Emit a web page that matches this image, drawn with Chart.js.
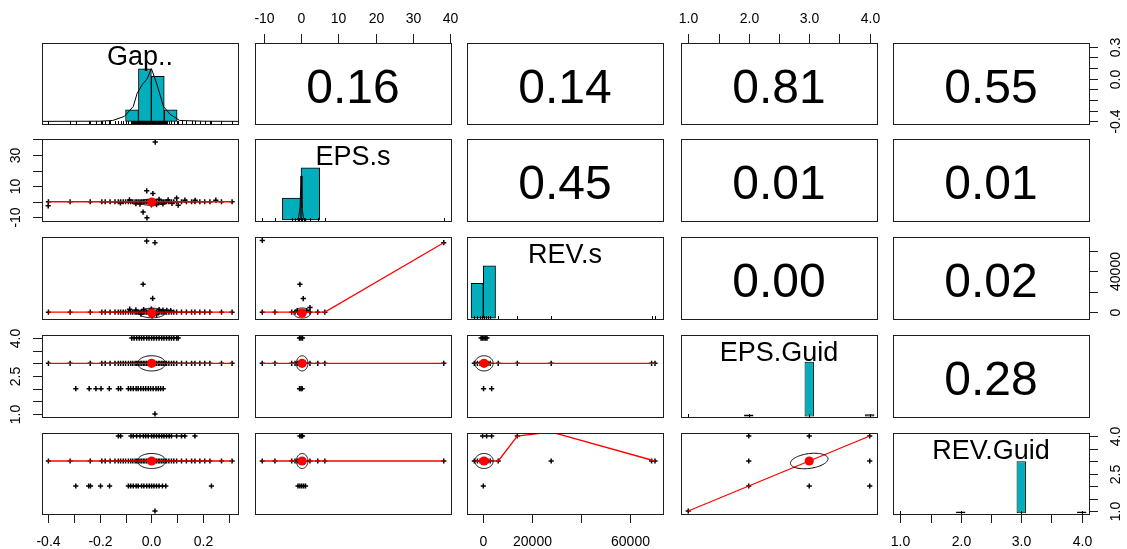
<!DOCTYPE html>
<html>
<head>
<meta charset="utf-8">
<title>Pairs panels</title>
<script src="https://cdn.jsdelivr.net/npm/chart.js@4.4.1/dist/chart.umd.min.js"></script>
<style>
  html, body { margin: 0; padding: 0; background: #ffffff; }
  #plot { position: relative; width: 1127px; height: 549px; overflow: hidden; background: #ffffff; }
  #plot canvas { position: absolute; }
</style>
</head>
<body>
<div id="plot"></div>
<script>
// ---------------- variables and axis ranges ----------------
const varNames = ['Gap..', 'EPS.s', 'REV.s', 'EPS.Guid', 'REV.Guid'];
const varMin = [-0.424, -12.35, -6670, 0.88, 0.88];
const varMax = [0.336, 40.25, 73470, 4.12, 4.12];

// ---------------- tick positions and printed labels ('' = tick only) ----------------
const gapTicks = [-0.4, -0.3, -0.2, -0.1, 0.0, 0.1, 0.2, 0.3];
const gapLabelsBottom = ['-0.4', '', '-0.2', '', '0.0', '', '0.2', ''];
const gapLabelsRight = ['-0.4', '', '', '', '0.0', '', '', '0.3'];
const epsTicks = [-10, 0, 10, 20, 30, 40];
const epsLabelsTop = ['-10', '0', '10', '20', '30', '40'];
const epsLabelsLeft = ['-10', '', '10', '', '30', ''];
const revTicks = [0, 20000, 40000, 60000];
const revLabelsBottom = ['0', '20000', '', '60000'];
const revLabelsRight = ['0', '', '40000', ''];
const guidTicks = [1.0, 1.5, 2.0, 2.5, 3.0, 3.5, 4.0];
const guidLabelsTop = ['1.0', '', '2.0', '', '3.0', '', '4.0'];
const guidLabelsSide = ['1.0', '', '', '2.5', '', '', '4.0'];

// ---------------- correlations printed above the diagonal ----------------
const corrRows = [0, 0, 0, 0, 1, 1, 1, 2, 2, 3];
const corrCols = [1, 2, 3, 4, 2, 3, 4, 3, 4, 4];
const corrText = ['0.16', '0.14', '0.81', '0.55', '0.45', '0.01', '0.01', '0.00', '0.02', '0.28'];

// ---------------- histograms (counts per bin, bin mid-points) ----------------
const gapBinMid = [-0.075, -0.025, 0.025, 0.075];
const gapBinCount = [65, 299, 256, 65];
const gapDensX = [-0.424, -0.20, -0.15, -0.105, -0.07, -0.055, -0.035, -0.017, 0.0, 0.015, 0.03, 0.047, 0.073, 0.11, 0.20, 0.336];
const gapDensY = [0, 1, 5, 28, 85, 160, 210, 240, 300, 240, 170, 85, 40, 5, 1, 0];
const gapHistRange = [-15, 446];

const epsBinMid = [-2.5, 2.5];
const epsBinCount = [218, 520];
const epsDensX = [-1.5, -0.7, -0.25, 0.0, 0.25, 0.7, 1.5];
const epsDensY = [0, 15, 120, 440, 120, 15, 0];
const epsHistRange = [-10, 809];

const revBinMid = [-2500, 2500];
const revBinCount = [295, 443];
const revHistRange = [-6, 685];

const guidBinMid = [1, 2, 3, 4];
const epsGuidCount = [1, 24, 690, 28];
const epsGuidHistRange = [-6, 1029];
const revGuidCount = [1, 25, 694, 26];
const revGuidHistRange = [-9, 1072];

// ---------------- observed values along the crowded rows ----------------
const gapCommon = [-0.399, -0.315, -0.237, -0.192, -0.179, -0.160, -0.141, -0.128, -0.119, -0.109, -0.100, -0.089,
  -0.080, -0.072, -0.063, -0.057, -0.051, -0.044, -0.038, -0.031, -0.025, -0.018, -0.012, -0.005, 0.001, 0.007,
  0.014, 0.020, 0.027, 0.033, 0.040, 0.046, 0.053, 0.059, 0.068, 0.078, 0.087, 0.098, 0.117, 0.136, 0.156, 0.169,
  0.188, 0.207, 0.227, 0.272, 0.313];
const gapEps4 = [-0.076, -0.067, -0.057, -0.047, -0.038, -0.029, -0.018, -0.009, 0.001, 0.010, 0.020, 0.030, 0.040,
  0.049, 0.059, 0.069, 0.078, 0.087, 0.098, 0.104];
const gapEps2 = [-0.293, -0.241, -0.215, -0.195, -0.163, -0.128, -0.119, -0.089, -0.080, -0.070, -0.059, -0.051,
  -0.041, -0.031, -0.022, -0.012, -0.003, 0.007, 0.018, 0.027, 0.036, 0.046];
const gapEps1 = [0.014];
const gapRev4 = [-0.128, -0.119, -0.079, -0.070, -0.057, -0.044, -0.031, -0.022, -0.012, 0.001, 0.010, 0.020, 0.030,
  0.040, 0.049, 0.059, 0.069, 0.078, 0.098, 0.117, 0.130, 0.169];
const gapRev2 = [-0.293, -0.243, -0.236, -0.197, -0.162, -0.089, -0.080, -0.070, -0.059, -0.051, -0.038, -0.029,
  -0.018, -0.008, 0.001, 0.010, 0.020, 0.030, 0.043, 0.056, 0.233];
const gapRev1 = [0.014];

const epsCommon = [-10.4, -7.0, -2.5, -1.6, -0.9, -0.5, -0.1, 0.3, 0.7, 1.1, 2.4, 4.5, 6.4];
const epsTop = [38.3];
const epsEps4 = [-0.4, 0.0, 0.4];
const epsEps2 = [-0.4, 0.0, 0.3];
const epsRev4 = [-0.3, 0.1, 0.4];
const epsRev2 = [-0.8, -0.3, 0.2, 0.7, 1.2];

const revEps3 = [-3670, -2400, -1300, -500, 300, 1100, 1900, 2800, 6100, 13900, 27750, 68800, 70200];
const revEps4 = [-900, -300, 300, 900, 1500];
const revEps2 = [100, 3400];
const revRev3 = [-3670, -2400, -1300, -500, 300, 1100, 1900, 2800, 6100, 27750, 68800, 70200];
const revRev4 = [-300, 1350, 3400, 13900];
const revRev2 = [0];

const guidPairs = [[1, 1], [2, 2], [2, 3], [2, 4], [3, 2], [3, 3], [3, 4], [4, 2], [4, 3], [4, 4]];

// scattered values away from the crowded rows
const gapEpsOff = [[-0.400, -2.6], [0.015, 38.3], [-0.018, 7.0], [0.006, 5.3], [-0.032, -6.6], [-0.017, -10.3],
  [0.098, 2.4], [0.104, -2.2], [-0.044, -1.5], [-0.085, 1.2], [-0.060, -1.3], [0.030, 1.6], [0.045, -1.4],
  [0.065, 1.2], [0.080, -1.0], [0.130, 1.0], [0.170, 0.9], [0.250, 1.0], [-0.120, -0.8], [0.000, -2.0], [0.020, -1.8]];
const gapRevOff = [[-0.018, 69500], [0.014, 67900], [-0.032, 27300], [0.005, 13400], [-0.084, 2900], [-0.060, 2200],
  [-0.030, 2600], [0.000, 3000], [0.030, 2500], [0.045, 2000], [0.060, 1800], [0.075, 1500], [-0.040, -2000],
  [0.020, -2500], [0.003, -3600]];
const epsRevOff = [[-10.4, 70100], [38.3, 67900], [-0.3, 27200], [0.6, 13300], [2.4, 4500], [1.5, 1500], [-1.0, 1500], [0.2, -2500]];

// ---------------- smoothers ----------------
const smoothGapEps = [[-0.399, 0], [0.313, 0]];
const smoothGapRev = [[-0.399, 0], [0.313, 0]];
const smoothEpsRev = [[-10.4, 0], [6.4, 0], [38.3, 67900]];
const smoothGapGuid = [[-0.399, 3], [0.313, 3]];
const smoothEpsGuid = [[-10.4, 3], [38.3, 3]];
const smoothRevEpsGuid = [[-3670, 3], [70200, 3]];
const smoothRevRevGuid = [[-3670, 3], [6100, 3], [13900, 4], [27750, 4.16], [70200, 3]];
const smoothGuid = [[1, 1], [2, 2], [3, 3], [4, 4]];

// ---------------- means and correlation ellipses: [x, y], [x radius, y radius, r] ----------------
const meanGapEps = [0.002, -0.3],  ellGapEps = [0.048, 2.0, 0];
const meanGapRev = [0.002, -800],  ellGapRev = [0.051, 4700, 0];
const meanEpsRev = [0.3, -800],    ellEpsRev = [2.3, 4900, 0];
const meanGapEG = [0.001, 3.0],    ellGapEG = [0.054, 0.30, 0];
const meanEpsEG = [0.3, 3.0],      ellEpsEG = [1.55, 0.30, 0];
const meanRevEG = [300, 3.0],      ellRevEG = [3750, 0.30, 0];
const meanGapRG = [0.001, 3.0],    ellGapRG = [0.055, 0.30, 0];
const meanEpsRG = [0.3, 3.0],      ellEpsRG = [1.55, 0.30, 0];
const meanRevRG = [300, 3.0],      ellRevRG = [3750, 0.30, 0];
const meanGuid = [3.0, 3.0],       ellGuid = [0.31, 0.31, 0.28];

// ---------------- layout ----------------
const BOX_LEFT = [42, 255, 467, 681, 893];
const BOX_W = 196;
const BOX_TOP = [43, 139, 237, 335, 433];
const BOX_H = [81, 82, 82, 82, 81];
const MARGIN = 50;
const HIST_COL = '#00AFBB';
const INK = '#000000';
const BOX_INK = '#1e1e1e';
const FONT = '"Liberation Sans", Arial, Helvetica, sans-serif';
const TICK_FONT_PX = 14;
const TICK_LEN = 9;
const RUG_LEN = 3;

const plotEl = document.getElementById('plot');

const row = (xs, y) => xs.map(x => ({ x: x, y: y }));
const pairs = (arr) => arr.map(p => ({ x: p[0], y: p[1] }));

function makeCanvas(r, c) {
  const cv = document.createElement('canvas');
  const w = BOX_W + 2 * MARGIN, h = BOX_H[r] + 2 * MARGIN;
  cv.width = w; cv.height = h;
  cv.style.width = w + 'px'; cv.style.height = h + 'px';
  cv.style.left = (BOX_LEFT[c] - MARGIN) + 'px';
  cv.style.top = (BOX_TOP[r] - MARGIN) + 'px';
  plotEl.appendChild(cv);
  return cv;
}

function drawEllipse(chart, e) {
  const xs = chart.scales.x, ys = chart.scales.y, ctx = chart.ctx, a = chart.chartArea;
  const d = Math.acos(e.r);
  ctx.save();
  ctx.beginPath();
  ctx.rect(a.left, a.top, a.right - a.left, a.bottom - a.top);
  ctx.clip();
  ctx.beginPath();
  for (let k = 0; k <= 90; k++) {
    const t = k / 90 * 2 * Math.PI;
    const px = xs.getPixelForValue(e.cx + e.rx * Math.cos(t + d / 2));
    const py = ys.getPixelForValue(e.cy + e.ry * Math.cos(t - d / 2));
    if (k === 0) ctx.moveTo(px, py); else ctx.lineTo(px, py);
  }
  ctx.strokeStyle = INK;
  ctx.lineWidth = 1;
  ctx.stroke();
  ctx.restore();
}

function drawRug(chart, vals) {
  const xs = chart.scales.x, ctx = chart.ctx, a = chart.chartArea;
  ctx.save();
  ctx.strokeStyle = INK;
  ctx.lineWidth = 1;
  ctx.beginPath();
  vals.forEach(v => {
    const p = Math.round(xs.getPixelForValue(v)) + 0.5;
    ctx.moveTo(p, a.bottom);
    ctx.lineTo(p, a.bottom - RUG_LEN);
  });
  ctx.stroke();
  ctx.restore();
}

function drawAxis(chart, ax) {
  const sc = chart.scales[ax.scale], ctx = chart.ctx, a = chart.chartArea;
  const fs = TICK_FONT_PX, half = 0.358 * fs;
  ctx.save();
  ctx.strokeStyle = BOX_INK;
  ctx.fillStyle = INK;
  ctx.lineWidth = 1;
  ctx.font = fs + 'px ' + FONT;
  ctx.textAlign = 'center';
  ctx.textBaseline = 'alphabetic';
  ax.ticks.forEach((v, i) => {
    const p = Math.round(sc.getPixelForValue(v)) + 0.5;
    const lab = ax.labels[i];
    ctx.beginPath();
    if (ax.side === 'top') {
      ctx.moveTo(p, a.top); ctx.lineTo(p, a.top - TICK_LEN); ctx.stroke();
      if (lab) ctx.fillText(lab, p, a.top - 24.7 + half);
    } else if (ax.side === 'bottom') {
      ctx.moveTo(p, a.bottom); ctx.lineTo(p, a.bottom + TICK_LEN); ctx.stroke();
      if (lab) ctx.fillText(lab, p, a.bottom + 27 + half);
    } else if (ax.side === 'left') {
      ctx.moveTo(a.left, p); ctx.lineTo(a.left - TICK_LEN, p); ctx.stroke();
      if (lab) {
        ctx.save(); ctx.translate(a.left - 27 + half, p); ctx.rotate(-Math.PI / 2);
        ctx.fillText(lab, 0, 0); ctx.restore();
      }
    } else {
      ctx.moveTo(a.right, p); ctx.lineTo(a.right + TICK_LEN, p); ctx.stroke();
      if (lab) {
        ctx.save(); ctx.translate(a.right + 26 + half, p); ctx.rotate(-Math.PI / 2);
        ctx.fillText(lab, 0, 0); ctx.restore();
      }
    }
  });
  ctx.restore();
}

function panelPlugin(spec) {
  return {
    id: 'panelDecor',
    beforeDatasetDraw(chart, args) {
      if (spec.ellipse && args.index === spec.ellipseBefore) drawEllipse(chart, spec.ellipse);
    },
    afterDatasetsDraw(chart) {
      if (spec.rug) drawRug(chart, spec.rug);
    },
    afterDraw(chart) {
      const ctx = chart.ctx, a = chart.chartArea;
      ctx.save();
      if (spec.name) {
        ctx.fillStyle = INK;
        ctx.font = '27px ' + FONT;
        ctx.textAlign = 'center';
        ctx.textBaseline = 'alphabetic';
        ctx.fillText(spec.name, (a.left + a.right) / 2, a.top + spec.nameDrop);
      }
      if (spec.corr) {
        ctx.fillStyle = INK;
        ctx.font = '48px ' + FONT;
        ctx.textAlign = 'center';
        ctx.textBaseline = 'alphabetic';
        ctx.fillText(spec.corr, (a.left + a.right) / 2, (a.top + a.bottom) / 2 + 19);
      }
      ctx.strokeStyle = BOX_INK;
      ctx.lineWidth = 1;
      ctx.strokeRect(Math.round(a.left) + 0.5, Math.round(a.top) + 0.5, Math.round(a.right - a.left), Math.round(a.bottom - a.top));
      ctx.restore();
      (spec.axes || []).forEach(ax => drawAxis(chart, ax));
    }
  };
}

function baseOptions(xr, yr, extraScales) {
  const scales = {
    x: { type: 'linear', display: false, min: xr[0], max: xr[1], offset: false,
         afterBuildTicks: s => { s.ticks = [{ value: s.min }]; } },
    y: { type: 'linear', display: false, min: yr[0], max: yr[1] }
  };
  Object.assign(scales, extraScales || {});
  return {
    responsive: false,
    maintainAspectRatio: false,
    animation: false,
    devicePixelRatio: 1,
    events: [],
    layout: { padding: MARGIN },
    plugins: { legend: { display: false }, tooltip: { enabled: false } },
    scales: scales
  };
}

// axes drawn around the outside of the matrix
const axesFor = {
  '0-1': [{ side: 'top', scale: 'x', ticks: epsTicks, labels: epsLabelsTop }],
  '0-3': [{ side: 'top', scale: 'x', ticks: guidTicks, labels: guidLabelsTop }],
  '0-4': [{ side: 'right', scale: 'y', ticks: gapTicks, labels: gapLabelsRight }],
  '1-0': [{ side: 'left', scale: 'y', ticks: epsTicks, labels: epsLabelsLeft }],
  '2-4': [{ side: 'right', scale: 'y', ticks: revTicks, labels: revLabelsRight }],
  '3-0': [{ side: 'left', scale: 'y', ticks: guidTicks, labels: guidLabelsSide }],
  '4-0': [{ side: 'bottom', scale: 'x', ticks: gapTicks, labels: gapLabelsBottom }],
  '4-2': [{ side: 'bottom', scale: 'x', ticks: revTicks, labels: revLabelsBottom }],
  '4-4': [{ side: 'bottom', scale: 'x', ticks: guidTicks, labels: guidLabelsTop },
          { side: 'right', scale: 'yv', ticks: guidTicks, labels: guidLabelsSide }]
};

// ---------------- diagonal: histograms ----------------
const diag = [
  { mid: gapBinMid, count: gapBinCount, range: gapHistRange, widthFrac: 1, densX: gapDensX, densY: gapDensY,
    rug: gapCommon.concat(gapEps2, gapEps4, gapRev2), drop: 22 },
  { mid: epsBinMid, count: epsBinCount, range: epsHistRange, widthFrac: 1, densX: epsDensX, densY: epsDensY,
    rug: epsCommon.concat(epsTop), drop: 26 },
  { mid: revBinMid, count: revBinCount, range: revHistRange, widthFrac: 1, densX: null, densY: null,
    rug: revEps3, drop: 25.5 },
  { mid: guidBinMid, count: epsGuidCount, range: epsGuidHistRange, widthFrac: 0.155, densX: null, densY: null,
    rug: guidBinMid, drop: 25.5 },
  { mid: guidBinMid, count: revGuidCount, range: revGuidHistRange, widthFrac: 0.155, densX: null, densY: null,
    rug: guidBinMid, drop: 25.5 }
];

diag.forEach((h, i) => {
  const datasets = [{
    type: 'bar',
    data: h.mid.map((m, k) => ({ x: m, y: h.count[k] })),
    backgroundColor: HIST_COL,
    borderColor: INK,
    borderWidth: 1,
    borderSkipped: false,
    barPercentage: h.widthFrac,
    categoryPercentage: 1,
    order: 2
  }];
  if (h.densX) {
    datasets.push({
      type: 'scatter', showLine: true,
      data: h.densX.map((x, k) => ({ x: x, y: h.densY[k] })),
      borderColor: INK, borderWidth: 1, pointRadius: 0, order: 1
    });
  }
  const extra = { yv: { type: 'linear', display: false, min: varMin[i], max: varMax[i] } };
  const spec = { name: varNames[i], nameDrop: h.drop, rug: h.rug, axes: axesFor[i + '-' + i] };
  new Chart(makeCanvas(i, i), {
    type: 'bar',
    data: { datasets: datasets },
    options: baseOptions([varMin[i], varMax[i]], h.range, extra),
    plugins: [panelPlugin(spec)]
  });
});

// ---------------- above the diagonal: correlations ----------------
corrRows.forEach((r, k) => {
  const c = corrCols[k];
  const spec = { corr: corrText[k], axes: axesFor[r + '-' + c] };
  new Chart(makeCanvas(r, c), {
    type: 'scatter',
    data: { datasets: [] },
    options: baseOptions([varMin[c], varMax[c]], [varMin[r], varMax[r]]),
    plugins: [panelPlugin(spec)]
  });
});

// ---------------- below the diagonal: scatter, smoother, ellipse ----------------
const lower = [
  { r: 1, c: 0, pts: row(gapCommon, 0).concat(pairs(gapEpsOff)), smooth: smoothGapEps, mean: meanGapEps, ell: ellGapEps },
  { r: 2, c: 0, pts: row(gapCommon, 0).concat(pairs(gapRevOff)), smooth: smoothGapRev, mean: meanGapRev, ell: ellGapRev },
  { r: 2, c: 1, pts: row(epsCommon, 0).concat(pairs(epsRevOff)), smooth: smoothEpsRev, mean: meanEpsRev, ell: ellEpsRev },
  { r: 3, c: 0, pts: row(gapCommon, 3).concat(row(gapEps4, 4), row(gapEps2, 2), row(gapEps1, 1)),
    smooth: smoothGapGuid, mean: meanGapEG, ell: ellGapEG },
  { r: 3, c: 1, pts: row(epsCommon.concat(epsTop), 3).concat(row(epsEps4, 4), row(epsEps2, 2)),
    smooth: smoothEpsGuid, mean: meanEpsEG, ell: ellEpsEG },
  { r: 3, c: 2, pts: row(revEps3, 3).concat(row(revEps4, 4), row(revEps2, 2)),
    smooth: smoothRevEpsGuid, mean: meanRevEG, ell: ellRevEG },
  { r: 4, c: 0, pts: row(gapCommon, 3).concat(row(gapRev4, 4), row(gapRev2, 2), row(gapRev1, 1)),
    smooth: smoothGapGuid, mean: meanGapRG, ell: ellGapRG },
  { r: 4, c: 1, pts: row(epsCommon.concat(epsTop), 3).concat(row(epsRev4, 4), row(epsRev2, 2)),
    smooth: smoothEpsGuid, mean: meanEpsRG, ell: ellEpsRG },
  { r: 4, c: 2, pts: row(revRev3, 3).concat(row(revRev4, 4), row(revRev2, 2)),
    smooth: smoothRevRevGuid, mean: meanRevRG, ell: ellRevRG },
  { r: 4, c: 3, pts: pairs(guidPairs), smooth: smoothGuid, mean: meanGuid, ell: ellGuid }
];

lower.forEach(p => {
  const spec = {
    axes: axesFor[p.r + '-' + p.c],
    ellipse: { cx: p.mean[0], cy: p.mean[1], rx: p.ell[0], ry: p.ell[1], r: p.ell[2] },
    ellipseBefore: 2
  };
  new Chart(makeCanvas(p.r, p.c), {
    type: 'scatter',
    data: {
      datasets: [
        { data: p.pts, pointStyle: 'cross', pointRadius: 2.6, borderColor: INK, borderWidth: 1.5, order: 3 },
        { data: pairs(p.smooth), showLine: true, borderColor: '#ff0000', borderWidth: 1.3, pointRadius: 0, order: 2 },
        { data: [{ x: p.mean[0], y: p.mean[1] }], pointRadius: 4.6, pointStyle: 'circle',
          backgroundColor: '#ff0000', borderColor: '#ff0000', borderWidth: 0, order: 1 }
      ]
    },
    options: baseOptions([varMin[p.c], varMax[p.c]], [varMin[p.r], varMax[p.r]]),
    plugins: [panelPlugin(spec)]
  });
});
</script>
</body>
</html>
